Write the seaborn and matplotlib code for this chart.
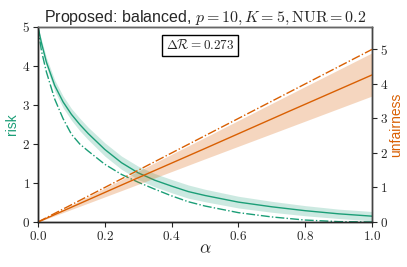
import numpy as np
import pandas as pd
import seaborn as sns
import matplotlib
matplotlib.use("Agg")
import matplotlib.pyplot as plt
from matplotlib.ticker import FuncFormatter, MultipleLocator

# risk curves (left axis)
alpha = [0.0, 0.01, 0.025, 0.05, 0.075, 0.1, 0.125, 0.15, 0.2, 0.25, 0.3, 0.35,
         0.4, 0.45, 0.5, 0.6, 0.7, 0.8, 0.9, 1.0]
risk_mean = [5.0, 4.60, 4.10, 3.50, 3.08, 2.76, 2.50, 2.27, 1.86, 1.52, 1.26, 1.07,
             0.92, 0.78, 0.68, 0.51, 0.39, 0.29, 0.21, 0.15]
risk_hi = [5.0, 4.68, 4.22, 3.64, 3.23, 2.91, 2.66, 2.43, 2.03, 1.69, 1.43, 1.24,
           1.09, 0.95, 0.84, 0.66, 0.53, 0.42, 0.33, 0.27]
risk_lo = [5.0, 4.52, 3.98, 3.36, 2.93, 2.61, 2.34, 2.11, 1.69, 1.35, 1.09, 0.90,
           0.75, 0.61, 0.52, 0.36, 0.25, 0.16, 0.09, 0.03]
risk_ref = [5.0, 4.40, 3.85, 3.15, 2.65, 2.25, 2.00, 1.82, 1.48, 1.22, 1.02, 0.84,
            0.67, 0.52, 0.41, 0.24, 0.13, 0.05, 0.01, 0.0]

# unfairness curves (right axis)
alpha_u = [0.0, 0.25, 0.5, 0.75, 1.0]
unf_mean = [0.0, 1.07, 2.13, 3.20, 4.26]
unf_hi = [0.0, 1.23, 2.45, 3.68, 4.90]
unf_lo = [0.0, 0.91, 1.83, 2.74, 3.65]
unf_ref = [0.0, 1.25, 2.50, 3.75, 5.00]

delta_r = 0.273
green = "#1b9e77"
orange = "#d95f02"

sns.set_style("ticks")
plt.rcParams["font.family"] = ["Liberation Sans", "DejaVu Sans"]
plt.rcParams["mathtext.fontset"] = "cm"

df_r = pd.DataFrame({"alpha": alpha, "mean": risk_mean, "ref": risk_ref})
df_u = pd.DataFrame({"alpha": alpha_u, "mean": unf_mean, "ref": unf_ref})

fig = plt.figure(figsize=(4.07, 2.67), dpi=100)
ax = fig.add_axes([0.0934, 0.1685, 0.8206, 0.7305])
ax2 = ax.twinx()

ax.fill_between(alpha, risk_lo, risk_hi, color=green, alpha=0.22, lw=0)
sns.lineplot(data=df_r, x="alpha", y="mean", ax=ax, color=green, lw=1.0)
sns.lineplot(data=df_r, x="alpha", y="ref", ax=ax, color=green, lw=1.0, linestyle="-.")

ax2.fill_between(alpha_u, unf_lo, unf_hi, color=orange, alpha=0.25, lw=0)
sns.lineplot(data=df_u, x="alpha", y="mean", ax=ax2, color=orange, lw=1.0)
sns.lineplot(data=df_u, x="alpha", y="ref", ax=ax2, color=orange, lw=1.0, linestyle="-.")

ax.set_xlim(0, 1)
ax.set_ylim(0, 5)
ax2.set_ylim(0, 5.65)
ax.xaxis.set_major_locator(MultipleLocator(0.2))
ax.yaxis.set_major_locator(MultipleLocator(1))
ax2.yaxis.set_major_locator(MultipleLocator(1))

fmt1 = FuncFormatter(lambda v, p: f"${v:.1f}$")
fmt0 = FuncFormatter(lambda v, p: f"${v:.0f}$")
ax.xaxis.set_major_formatter(fmt1)
ax.yaxis.set_major_formatter(fmt0)
ax2.yaxis.set_major_formatter(fmt0)
for a in (ax, ax2):
    a.tick_params(labelsize=9.5, length=3.5, width=0.8, pad=2)

ax.set_xlabel(r"$\alpha$", fontsize=12.5, labelpad=-1)
ax.set_ylabel("risk", color=green, fontsize=10, labelpad=2)
ax2.set_ylabel("unfairness", color=orange, fontsize=10, labelpad=1)

for a in (ax, ax2):
    for s in a.spines.values():
        s.set_linewidth(1.0)
ax.spines["left"].set_color("black")
ax.spines["bottom"].set_color("black")
ax2.spines["top"].set_color("#666666")
ax2.spines["right"].set_color("#444444")

ax.text(0.485, 0.905, rf"$\Delta\mathcal{{R}} = {delta_r}$", transform=ax.transAxes,
        ha="center", va="center", fontsize=9.5,
        bbox=dict(boxstyle="square,pad=0.3", fc="white", ec="black", lw=1.0))

ax.set_title(r"Proposed: balanced, $p=10, K=5, \mathrm{NUR}=0.2$", fontsize=11.5, pad=3)

fig.savefig("out.png", dpi=100)
